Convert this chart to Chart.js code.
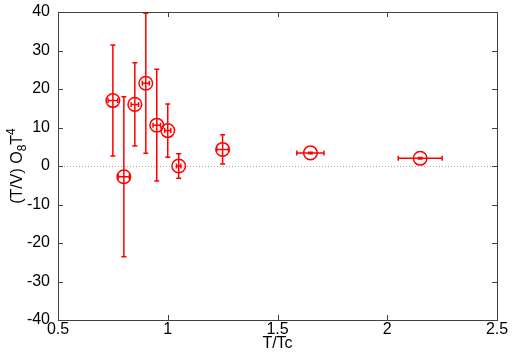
<!DOCTYPE html>
<html>
<head>
<meta charset="utf-8">
<script src="https://cdn.jsdelivr.net/npm/chart.js@4"></script>
<style>
html, body { margin: 0; padding: 0; background: #fff; }
#wrap { width: 514px; height: 364px; }
</style>
</head>
<body>
<div id="wrap"><canvas id="myChart" width="514" height="364"></canvas></div>
<script>
// T/Tc values and their horizontal errors
var tValues = [0.75, 0.80, 0.85, 0.90, 0.95, 1.00, 1.05, 1.25, 1.65, 2.15];
var tErrors = [0.022, 0.025, 0.017, 0.016, 0.017, 0.014, 0.01, 0.027, 0.062, 0.10];
// (T/V) O8 T^4 values and their vertical errors
var oValues = [17.0, -2.8, 16.0, 21.5, 10.6, 9.2, 0.0, 4.3, 3.4, 2.0];
var oErrors = [14.4, 20.8, 10.8, 18.2, 14.5, 6.9, 3.2, 3.8, 0.2, 0.2];

var xTicks = [0.5, 1, 1.5, 2, 2.5];
var yTicks = [-40, -30, -20, -10, 0, 10, 20, 30, 40];

var fontName = "'Liberation Sans', Arial, sans-serif";
var red = "#ff0000";

var points = [];
for (let i = 0; i < tValues.length; i++) {
  points.push({ x: tValues[i], y: oValues[i] });
}

function noScalePadding(s) {
  s.paddingTop = 0;
  s.paddingBottom = 0;
  s.paddingLeft = 0;
  s.paddingRight = 0;
}

var extras = {
  id: "extras",
  beforeDatasetsDraw(chart) {
    const ctx = chart.ctx;
    const a = chart.chartArea;
    const ys = chart.scales.y;
    // dotted zero line
    ctx.save();
    ctx.strokeStyle = "#aaaaaa";
    ctx.lineWidth = 1;
    ctx.setLineDash([1, 2]);
    const y0 = Math.round(ys.getPixelForValue(0)) + 0.5;
    ctx.beginPath();
    ctx.moveTo(a.left, y0);
    ctx.lineTo(a.right, y0);
    ctx.stroke();
    ctx.restore();
  },
  afterDatasetsDraw(chart) {
    const ctx = chart.ctx;
    const xs = chart.scales.x;
    const ys = chart.scales.y;
    ctx.save();
    ctx.strokeStyle = red;
    ctx.lineWidth = 1.5;
    const cap = 2.5;
    for (let i = 0; i < tValues.length; i++) {
      const px = xs.getPixelForValue(tValues[i]);
      const py = ys.getPixelForValue(oValues[i]);
      const yHi = ys.getPixelForValue(oValues[i] + oErrors[i]);
      const yLo = ys.getPixelForValue(oValues[i] - oErrors[i]);
      const xLo = xs.getPixelForValue(tValues[i] - tErrors[i]);
      const xHi = xs.getPixelForValue(tValues[i] + tErrors[i]);
      ctx.beginPath();
      ctx.moveTo(px, yHi); ctx.lineTo(px, yLo);
      ctx.moveTo(px - cap, yHi); ctx.lineTo(px + cap, yHi);
      ctx.moveTo(px - cap, yLo); ctx.lineTo(px + cap, yLo);
      ctx.moveTo(xLo, py); ctx.lineTo(xHi, py);
      ctx.moveTo(xLo, py - cap); ctx.lineTo(xLo, py + cap);
      ctx.moveTo(xHi, py - cap); ctx.lineTo(xHi, py + cap);
      ctx.stroke();
    }
    ctx.restore();
  },
  afterDraw(chart) {
    const ctx = chart.ctx;
    const a = chart.chartArea;
    const xs = chart.scales.x;
    const ys = chart.scales.y;
    ctx.save();
    // frame
    ctx.strokeStyle = "#404040";
    ctx.lineWidth = 1;
    ctx.strokeRect(Math.round(a.left) + 0.5, Math.round(a.top) + 0.5,
      Math.round(a.right - a.left), Math.round(a.bottom - a.top));
    // inward ticks on all four sides
    const tl = 5;
    ctx.beginPath();
    xTicks.forEach(function (v) {
      const x = Math.round(xs.getPixelForValue(v)) + 0.5;
      ctx.moveTo(x, a.bottom); ctx.lineTo(x, a.bottom - tl);
      ctx.moveTo(x, a.top); ctx.lineTo(x, a.top + tl);
    });
    yTicks.forEach(function (v) {
      const y = Math.round(ys.getPixelForValue(v)) + 0.5;
      ctx.moveTo(a.left, y); ctx.lineTo(a.left + tl, y);
      ctx.moveTo(a.right, y); ctx.lineTo(a.right - tl, y);
    });
    ctx.stroke();

    // axis titles
    ctx.fillStyle = "#000";
    ctx.font = "16px " + fontName;
    ctx.textAlign = "center";
    ctx.textBaseline = "alphabetic";
    ctx.fillText("T/Tc", (a.left + a.right) / 2, 348);

    // y title with subscript and superscript
    const parts = [
      { t: "(T/V) O", size: 16, dy: 0 },
      { t: "8", size: 12, dy: 4 },
      { t: "T", size: 16, dy: 0 },
      { t: "4", size: 12, dy: -7 }
    ];
    let total = 0;
    parts.forEach(function (p) {
      ctx.font = p.size + "px " + fontName;
      p.w = ctx.measureText(p.t).width;
      total += p.w;
    });
    ctx.translate(22, (a.top + a.bottom) / 2);
    ctx.rotate(-Math.PI / 2);
    ctx.textAlign = "left";
    let cx = -total / 2;
    parts.forEach(function (p) {
      ctx.font = p.size + "px " + fontName;
      ctx.fillText(p.t, cx, p.dy);
      cx += p.w;
    });
    ctx.restore();
  }
};

var data = {
  datasets: [
    {
      label: "O8",
      data: points,
      showLine: false,
      pointStyle: "circle",
      pointRadius: 6.8,
      pointBorderWidth: 1.5,
      borderColor: red,
      backgroundColor: "rgba(0,0,0,0)",
      pointBackgroundColor: "rgba(0,0,0,0)"
    }
  ]
};

var config = {
  type: "scatter",
  data: data,
  options: {
    responsive: false,
    animation: false,
    devicePixelRatio: 1,
    layout: { padding: { top: 12, right: 17, left: 0, bottom: 0 } },
    plugins: { legend: { display: false }, tooltip: { enabled: false } },
    scales: {
      x: {
        type: "linear",
        min: 0.5,
        max: 2.5,
        afterBuildTicks: function (s) { s.ticks = xTicks.map(function (v) { return { value: v }; }); },
        afterFit: function (s) { s.height = 44; noScalePadding(s); },
        grid: { display: false, drawTicks: false },
        border: { display: false },
        ticks: {
          padding: 0,
          color: "#000",
          font: { family: fontName, size: 16 },
          callback: function (v) { return String(v); }
        }
      },
      y: {
        type: "linear",
        min: -40,
        max: 40,
        afterBuildTicks: function (s) { s.ticks = yTicks.map(function (v) { return { value: v }; }); },
        afterFit: function (s) { s.width = 58; noScalePadding(s); },
        grid: { display: false, drawTicks: false },
        border: { display: false },
        ticks: {
          padding: 8,
          color: "#000",
          font: { family: fontName, size: 16 },
          callback: function (v) { return String(v); }
        }
      }
    }
  },
  plugins: [extras]
};

const myChart = new Chart(document.getElementById("myChart"), config);
</script>
</body>
</html>
